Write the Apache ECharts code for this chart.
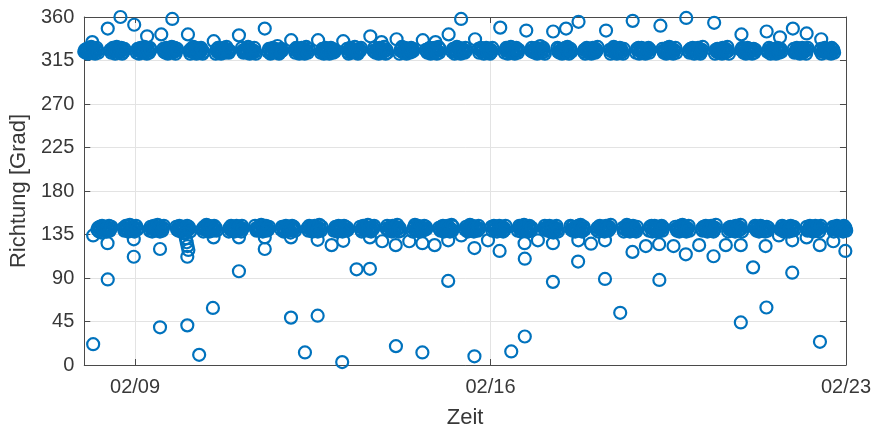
<!DOCTYPE html>
<html><head><meta charset="utf-8">
<script src="https://cdn.jsdelivr.net/npm/echarts@6/dist/echarts.min.js"></script>
<style>html,body{margin:0;padding:0;background:#fff}#c{width:874px;height:434px}</style>
</head><body><div id="c"></div>
<script>
// time in hours since 02/08 00:00
const xTickHours = [24, 192, 360];
const xTickLabels = ['02/09', '02/16', '02/23'];
const yMin = 0, yMax = 360, yStep = 45;
const sampleStepHours = 22 / 60;

// ebb (~325°) clusters: start hour of each cluster and the directions read for it
const ebbStartHours = [0,12.4,24.8,37.3,49.7,62.1,74.5,86.9,99.4,111.8,124.2,136.6,149.0,161.5,173.9,186.3,198.7,211.1,223.6,236.0,248.4,260.8,273.2,285.7,298.1,310.5,322.9,335.3,347.8];
const ebbDirs = [
[324,326,323,327,325,322,328,324,326,329,323,325,327,324,322,326,328,325,323],
[326,323,325,328,324,327,322,325,329,326,324,323,327,325,328,322,326,324,327],
[323,327,325,322,326,328,324,327,323,325,329,326,324,322,327,325,323,328,326],
[327,324,326,323,328,325,322,326,324,327,325,329,323,326,324,328,322,325,327],
[325,322,327,324,326,329,323,325,328,322,326,324,327,323,325,328,326,322,324],
[322,326,324,328,323,325,327,322,326,324,328,325,323,327,329,324,326,323,325],
[328,325,323,326,324,327,325,323,329,326,322,327,324,326,323,325,328,324,322],
[324,327,326,322,325,323,328,326,324,327,325,323,330,325,322,326,324,327,325],
[326,323,328,325,327,324,322,326,325,328,323,327,324,322,326,329,325,323,327],
[323,325,327,324,322,326,328,323,327,324,326,322,325,328,324,327,323,326,324],
[327,324,322,326,328,325,323,327,324,326,329,325,323,326,322,324,327,325,328],
[325,328,324,323,326,327,325,322,328,324,323,326,327,324,329,325,322,326,323],
[322,325,327,329,324,323,326,328,325,322,327,324,326,323,325,328,324,327,325],
[326,324,323,327,325,328,322,325,327,323,326,328,324,326,322,325,329,323,327],
[324,327,325,322,326,324,329,323,326,328,324,322,325,327,324,326,323,328,325],
[327,323,326,328,324,325,327,322,324,326,328,325,323,327,325,322,326,324,328],
[323,326,328,325,322,327,324,326,329,323,325,327,324,322,326,328,325,323,326],
[325,328,324,326,327,323,325,328,322,326,324,327,330,325,323,326,328,324,322],
[328,324,327,323,325,326,322,327,325,324,328,323,326,329,324,322,325,327,324],
[324,326,322,327,328,324,326,323,327,325,322,326,328,324,326,323,327,325,329],
[326,322,325,324,327,329,323,325,326,322,327,324,325,328,323,326,324,322,327],
[323,327,326,328,322,325,324,328,323,327,325,326,322,324,327,325,328,323,326],
[327,325,323,325,326,322,328,324,326,329,323,325,327,324,322,326,325,328,323],
[325,323,327,326,324,328,325,322,327,324,326,323,328,325,327,322,324,326,329],
[322,326,324,327,325,323,327,326,324,322,328,325,326,323,327,324,329,325,322],
[326,328,325,323,327,324,322,326,328,325,323,327,324,326,322,325,327,323,326],
[324,325,328,326,322,327,325,323,325,327,324,322,326,328,325,323,326,327,324],
[327,323,324,325,328,326,323,327,322,326,325,328,323,324,327,325,322,326,328],
[325,327,322,324,326,325,328,324,327,323,326,324,327,325,322,328,324,326,323]
];

// flood (~140°) clusters
const floodStartHours = [6.2,18.6,31.0,43.5,55.9,68.3,80.7,93.1,105.6,118.0,130.4,142.8,155.2,167.7,180.1,192.5,204.9,217.3,229.8,242.2,254.6,267.0,279.4,291.9,304.3,316.7,329.1,341.5,353.5];
const floodDirs = [
[140,142,138,143,141,137,144,140,142,139,143,141,138,142,140,144,139,141,143],
[142,139,141,144,140,143,138,141,145,142,140,139,143,141,138,142,144,140,141],
[139,143,141,138,142,144,140,143,139,141,145,142,140,138,143,141,139,142,144],
[143,140,142,139,144,141,138,142,140,143,141,137,139,142,144,140,143,141,138],
[141,138,143,140,142,145,139,141,144,138,142,140,143,139,141,144,140,142,139],
[138,142,140,144,139,141,143,138,142,140,144,141,139,143,140,142,138,144,141],
[144,141,139,142,140,143,141,139,145,142,138,143,140,141,144,139,142,140,143],
[140,143,142,138,141,139,144,142,140,143,141,139,137,142,144,140,143,141,139],
[142,139,144,141,143,140,138,142,141,144,139,143,140,138,142,145,141,139,143],
[139,141,143,140,138,142,144,139,143,140,142,138,141,144,140,143,139,142,140],
[143,140,138,142,144,141,139,143,140,142,145,141,139,142,138,140,143,141,144],
[141,144,140,139,142,143,141,138,144,140,139,142,143,140,145,141,138,142,139],
[138,141,143,145,140,139,142,144,141,138,143,140,142,139,141,144,140,143,141],
[142,140,139,143,141,144,138,141,143,139,142,144,140,142,138,141,145,139,143],
[140,143,141,138,142,140,145,139,142,144,140,138,141,143,140,142,139,144,141],
[143,139,142,144,140,141,143,138,140,142,144,141,139,143,141,138,142,140,144],
[139,142,144,141,138,143,140,142,145,139,141,143,140,138,142,144,141,139,142],
[141,144,140,142,143,139,141,144,138,142,140,143,137,141,139,142,144,140,138],
[144,140,143,139,141,142,138,143,141,140,144,139,142,145,140,138,141,143,140],
[140,142,138,143,144,140,142,139,143,141,138,142,144,140,142,139,143,141,145],
[142,138,141,140,143,145,139,141,142,138,143,140,141,144,139,142,140,138,143],
[139,143,142,144,138,141,140,144,139,143,141,142,138,140,143,141,144,139,142],
[143,141,139,141,142,138,144,140,142,145,139,141,143,140,138,142,141,144,139],
[141,139,143,142,140,144,141,138,143,140,142,139,144,141,143,138,140,142,145],
[138,142,140,143,141,139,143,142,140,138,144,141,142,139,143,140,145,141,138],
[142,144,141,139,143,140,138,142,144,141,139,143,140,142,138,141,143,139,142],
[140,141,144,142,138,143,141,139,141,143,140,138,142,144,141,139,142,143,140],
[143,139,140,141,144,142,139,143,138,142,141,144,139,140,143,141,138,142,144],
[141,143,138,140,142,141,144,140,143,139,142,140,143,141,138,144,140,142,139]
];

// isolated points (slack water / turning)
const otherHours = [
3.8,11.1,17.1,23.6,29.7,36.4,41.6,49.0,61.2,73.1,85.3,97.8,110.5,122.4,135.2,140.5,147.6,160.0,166.0,172.2,178.1,184.7,196.6,208.9,221.6,227.7,233.6,246.6,259.2,272.3,284.5,297.7,310.6,322.5,328.8,334.9,341.4,348.3,
4.2,4.2,11.1,11.0,23.4,23.4,35.8,35.8,48.7,48.7,54.3,60.8,61.1,73.1,73.1,85.3,85.3,97.7,97.7,104.3,110.3,110.3,116.9,121.9,122.4,128.7,135.0,135.0,140.8,147.3,147.2,153.6,159.8,159.8,165.6,172.0,172.0,178.2,184.4,184.4,190.8,196.3,201.8,208.2,208.2,208.1,214.4,221.5,221.5,233.4,233.5,239.5,246.1,246.1,253.3,259.1,265.4,271.8,271.7,278.5,284.3,290.6,297.4,303.2,310.3,310.3,316.1,322.0,322.4,328.3,334.6,334.6,341.4,347.7,347.6,354.0,359.7,
47.6,48.0,48.4,48.8,49.2
];
const otherDirs = [
334,348,360,352,340,342,358,342,335,341,348,336,336,335,340,334,337,336,334,342,358,337,349,346,345,348,355,346,356,351,359,354,342,345,339,348,343,337,
21.5,134,88.5,126,112,130,39,120,41,112,10.5,59,132,97,132,120,132,49,132,13,51,129.5,124,3,128.5,99,99.5,132,128,19.5,124,128,13,126,124,87,129,134,121,9,129,118,14,29.5,110,126,129,86,126,107,129,125.5,89,129,54,117,123,88,125,123,114.5,124,112.5,124,44,124,101,123,59.5,134,95.5,129,132,24,124,128,118,
136,131,127,123,119
];

function clusters(starts, dirs) {
  const out = [];
  starts.forEach((s, i) => dirs[i].forEach((d, j) => out.push([s + j * sampleStepHours, d])));
  return out;
}
const data = clusters(ebbStartHours, ebbDirs)
  .concat(clusters(floodStartHours, floodDirs))
  .concat(otherHours.map((h, i) => [h, otherDirs[i]]));

const font = '"Liberation Sans", Arial, Helvetica, sans-serif';
const axisCol = '#4a4a4a', textCol = '#383838', gridCol = '#e3e3e3';
const fmtX = v => { const i = xTickHours.indexOf(v); return i >= 0 ? xTickLabels[i] : ''; };

const chart = echarts.init(document.getElementById('c'), null, {renderer: 'canvas'});
chart.setOption({
  animation: false,
  backgroundColor: '#ffffff',
  grid: {left: 82, right: 28, top: 17, bottom: 62, containLabel: false},
  xAxis: [{
    type: 'value', min: 0, max: 360, position: 'bottom',
    name: 'Zeit', nameLocation: 'middle', nameGap: 42,
    nameTextStyle: {fontFamily: font, fontSize: 22, color: textCol},
    axisLine: {show: true, onZero: false, lineStyle: {color: axisCol, width: 1}},
    axisTick: {show: true, inside: true, length: 6, customValues: xTickHours, lineStyle: {color: axisCol}},
    axisLabel: {show: true, customValues: xTickHours, formatter: fmtX, margin: 12, fontFamily: font, fontSize: 20, color: textCol},
    splitLine: {show: true, lineStyle: {color: gridCol, width: 1}}
  }, {
    type: 'value', min: 0, max: 360, position: 'top',
    axisLine: {show: true, onZero: false, lineStyle: {color: axisCol, width: 1}},
    axisTick: {show: true, inside: true, length: 6, customValues: xTickHours, lineStyle: {color: axisCol}},
    axisLabel: {show: false}, splitLine: {show: false}
  }],
  yAxis: [{
    type: 'value', min: yMin, max: yMax, interval: yStep, position: 'left',
    name: 'Richtung [Grad]', nameLocation: 'middle', nameGap: 53, nameRotate: 90,
    nameTextStyle: {fontFamily: font, fontSize: 22, color: textCol},
    axisLine: {show: true, onZero: false, lineStyle: {color: axisCol, width: 1}},
    axisTick: {show: true, inside: true, length: 6, lineStyle: {color: axisCol}},
    axisLabel: {margin: 10, fontFamily: font, fontSize: 20, color: textCol},
    splitLine: {show: true, lineStyle: {color: gridCol, width: 1}}
  }, {
    type: 'value', min: yMin, max: yMax, interval: yStep, position: 'right',
    axisLine: {show: true, onZero: false, lineStyle: {color: axisCol, width: 1}},
    axisTick: {show: true, inside: true, length: 6, lineStyle: {color: axisCol}},
    axisLabel: {show: false}, splitLine: {show: false}
  }],
  series: [{
    type: 'scatter', xAxisIndex: 0, yAxisIndex: 0,
    symbol: 'circle', symbolSize: 12,
    itemStyle: {color: 'rgba(0,0,0,0)', borderColor: '#0072BD', borderWidth: 2.2, opacity: 1},
    emphasis: {disabled: true},
    clip: false,
    data: data
  }]
});
</script></body></html>
